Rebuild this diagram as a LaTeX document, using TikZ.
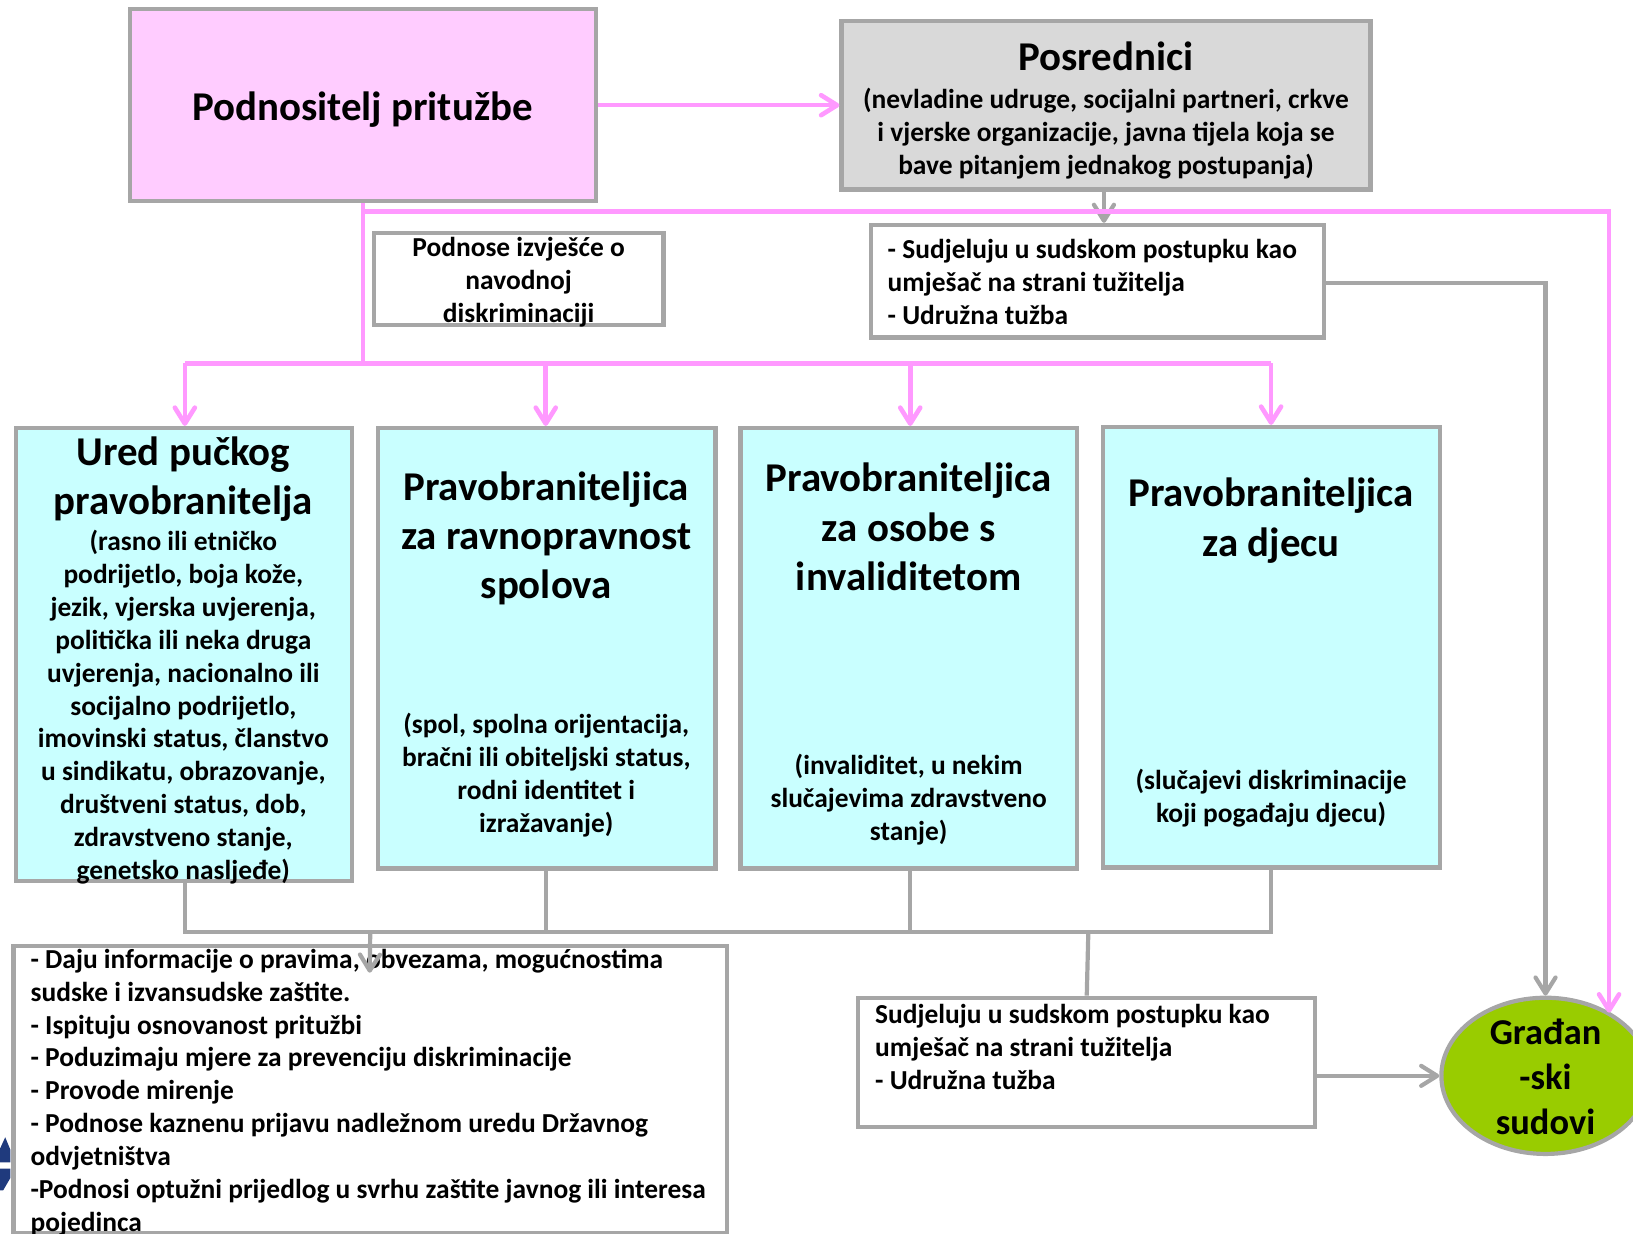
\documentclass[tikz,border=0pt]{standalone}
\usepackage{fontspec}
\setmainfont{Carlito}
\usetikzlibrary{arrows.meta,shapes.geometric}
\definecolor{gline}{HTML}{A6A6A6}
\definecolor{pline}{HTML}{FF99FF}
\definecolor{pfill}{HTML}{FFCCFF}
\definecolor{gfill}{HTML}{D9D9D9}
\definecolor{bfill}{HTML}{C9FFFF}
\definecolor{efill}{HTML}{99CC00}
\definecolor{logo}{HTML}{1F3A7D}
\newcommand{\smalltxt}{\fontsize{13.72}{16.45}\selectfont\bfseries}
\newcommand{\bigtxt}{\fontsize{20.45}{24.7}\selectfont\bfseries}
\tikzset{
  x=0.52075pt,y=-0.52075pt,
  sized/.style 2 args={minimum width=#1*0.52075pt,minimum height=#2*0.52075pt},
  boxbase/.style={draw=gline,line width=2.1pt,inner sep=0pt,rectangle},
  whitebox/.style={boxbase,fill=white},
  bluebox/.style={boxbase,fill=bfill},
  txt/.style={inner sep=0pt,text=black,align=center},
  small/.style={txt,font=\smalltxt},
  smallleft/.style={small,align=left,anchor=west},
  big/.style={txt,font=\bigtxt},
  gconn/.style={draw=gline,line width=2.1pt},
  gar/.style={gconn,-{Straight Barb[length=8pt,width=10pt,round]}},
  pconn/.style={draw=pline,line width=2.3pt},
  par/.style={pconn,-{Straight Barb[length=8pt,width=10pt,round]}},
}
\begin{document}
\begin{tikzpicture}
\useasboundingbox (0,0) rectangle (1568,1184);
\clip (0,0) rectangle (1568,1184);
\fill[logo] (0,1103) -- (5,1092) -- (10,1104) -- (10,1116) -- (0,1116) -- cycle;
\fill[logo] (0,1122) -- (10,1122) -- (10,1131) -- (3,1143) -- (0,1143) -- cycle;

\node[boxbase,fill=pfill,sized={447}{184}] (pod) at (348.5,101) {};
\node[boxbase,fill=gfill,sized={508}{162}] (pos) at (1062,101) {};
\node[whitebox,sized={278}{88}] (izv) at (498,268) {};
\node[whitebox,sized={435}{108}] (sud) at (1053.5,270) {};
\node[bluebox,sized={323}{435}] (b1) at (176.5,628.5) {};
\node[bluebox,sized={324}{423}] (b2) at (525,622.5) {};
\node[bluebox,sized={323}{423}] (b3) at (872.5,622.5) {};
\node[bluebox,sized={324}{423}] (b4) at (1221,621.5) {};
\node[whitebox,sized={685}{276}] (inf) at (355.5,1046) {};
\node[whitebox,sized={439}{124}] (low) at (1043.5,1020) {};
\node[ellipse,draw=gline,line width=2.1pt,fill=efill,inner sep=0pt,sized={200}{150}] (ell) at (1484,1033) {};

\coordinate (ptop) at (1545,203);
\coordinate (pbus) at (348,349);
\coordinate (gbus) at (355,895);
\coordinate (gx) at (1060,200);
\coordinate (atip) at (355,934);
\coordinate (lowtop) at (1045,895);
\coordinate (sudr) at (1272,272);
\coordinate (x1) at (177.5,0);
\coordinate (x2) at (524,0);
\coordinate (x3) at (874,0);
\coordinate (x4) at (1220.5,0);

\draw[gar] (pos.south -| gx) -- (sud.north -| gx);
\draw[pconn] (pod.south) -- (pod.south |- pbus);
\draw[par] (pod.south |- ptop) -- (ptop) -- (ptop |- ell.44);
\draw[par] (pod.east) -- (pos.west);
\draw[pconn] (x1 |- pbus) -- (x4 |- pbus);
\draw[par] (x1 |- pbus) -- (x1 |- b1.north);
\draw[par] (x2 |- pbus) -- (x2 |- b2.north);
\draw[par] (x3 |- pbus) -- (x3 |- b3.north);
\draw[par] (x4 |- pbus) -- (x4 |- b4.north);
\draw[gar] (sudr) -| (ell.north);
\draw[gconn] (x1 |- b1.south) -- (x1 |- gbus) -- (x4 |- gbus) -- (x4 |- b4.south);
\draw[gconn] (x2 |- b2.south) -- (x2 |- gbus);
\draw[gconn] (x3 |- b3.south) -- (x3 |- gbus);
\draw[gconn] (lowtop) -- (low.north);
\draw[gar] (ell.west -| low.east) -- (ell.west);

\node[big] (tpod) at (348,105) {Podnositelj pritužbe};
\node[big] (tpos) at (1062,54.5) {Posrednici};
\node[small] (tpos2) at (1062,128) {(nevladine udruge, socijalni partneri, crkve\\i vjerske organizacije, javna tijela koja se\\bave pitanjem jednakog postupanja)};
\node[small] (tizv) at (498,271) {Podnose izvješće o\\navodnoj\\diskriminaciji};
\node[smallleft] (tsud) at (852,271) {- Sudjeluju u sudskom postupku kao\\umješač na strani tužitelja\\- Udružna tužba};
\node[big] (t1) at (176,460) {Ured pučkog\\pravobranitelja};
\node[small] (d1) at (176,679) {(rasno ili etničko\\podrijetlo, boja kože,\\jezik, vjerska uvjerenja,\\politička ili neka druga\\uvjerenja, nacionalno ili\\socijalno podrijetlo,\\imovinski status, članstvo\\u sindikatu, obrazovanje,\\društveni status, dob,\\zdravstveno stanje,\\genetsko nasljeđe)};
\node[big] (t2) at (524.5,517) {Pravobraniteljica\\za ravnopravnost\\spolova};
\node[small] (d2) at (524.5,744) {(spol, spolna orijentacija,\\bračni ili obiteljski status,\\rodni identitet i\\izražavanje)};
\node[big] (t3) at (872.5,506) {Pravobraniteljica\\za osobe s\\invaliditetom};
\node[small] (d3) at (872.5,768) {(invaliditet, u nekim\\slučajevima zdravstveno\\stanje)};
\node[big] (t4) at (1220.5,500) {Pravobraniteljica\\za djecu};
\node[small] (d4) at (1220.5,766.5) {(slučajevi diskriminacije\\koji pogađaju djecu)};
\node[smallleft] (tinf) at (29,1049) {- Daju informacije o pravima, obvezama, mogućnostima\\sudske i izvansudske zaštite.\\- Ispituju osnovanost pritužbi\\- Poduzimaju mjere za prevenciju diskriminacije\\- Provode mirenje\\- Podnose kaznenu prijavu nadležnom uredu Državnog\\odvjetništva\\-Podnosi optužni prijedlog u svrhu zaštite javnog ili interesa\\pojedinca};
\node[smallleft] (tlow) at (840,1005) {Sudjeluju u sudskom postupku kao\\umješač na strani tužitelja\\- Udružna tužba};
\node[txt,font=\fontsize{18.2}{22.3}\selectfont\bfseries] (tell) at (1484,1034) {Građan\\-ski\\sudovi};

\draw[gar] (inf.north |- gbus) -- (atip);
\end{tikzpicture}
\end{document}
